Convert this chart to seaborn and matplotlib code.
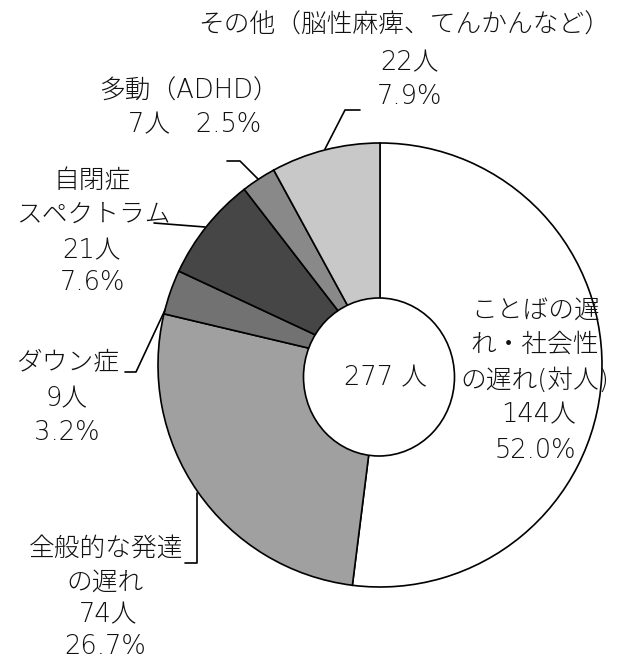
import matplotlib
matplotlib.use("Agg")
import matplotlib.pyplot as plt
from matplotlib.patches import Ellipse
import seaborn as sns

# ---- data ----
categories = ["ことばの遅れ・社会性の遅れ(対人)", "全般的な発達の遅れ", "ダウン症",
              "自閉症スペクトラム", "多動（ADHD）", "その他（脳性麻痺、てんかんなど）"]
counts = [144, 74, 9, 21, 7, 22]
percents = [52.0, 26.7, 3.2, 7.6, 2.5, 7.9]
total_label = "277 人"
colors = ["#ffffff", "#a0a0a0", "#727272", "#464646", "#898989", "#c8c8c8"]

sns.set_theme(style="white")
plt.rcParams['font.family'] = ['DejaVu Sans', 'Noto Sans CJK JP']

W, H = 620, 663
fig = plt.figure(figsize=(W / 100, H / 100), dpi=100)
ax = fig.add_axes([0, 0, 1, 1])

ax.pie(counts, colors=colors, center=(380, 365), radius=222,
       startangle=-90, counterclock=True,
       wedgeprops=dict(edgecolor="black", linewidth=1.2))
ax.set_xlim(0, W)
ax.set_ylim(H, 0)
ax.set_aspect("auto")
ax.axis("off")

# hole
ax.add_patch(Ellipse((379, 377), 151, 158, facecolor="white",
                     edgecolor="black", linewidth=1.2, zorder=5))

fs = 18.5
def t(x, y, s, **kw):
    ax.text(x, y, s, ha="center", va="center", fontsize=fs, color="#111111",
            fontweight="light", zorder=10, **kw)

t(385, 378, total_label)

# ことばの遅れ
t(536, 310, "ことばの遅")
t(535, 344, "れ・社会性")
t(535, 380, "の遅れ(対人)")
t(539, 415, f"{counts[0]}人")
t(535, 450, f"{percents[0]:.1f}%")

# 全般的な発達の遅れ
t(106, 548, "全般的な発達")
t(105, 582, "の遅れ")
t(108, 615, f"{counts[1]}人")
t(105, 646, f"{percents[1]:.1f}%")

# ダウン症
t(68, 363, "ダウン症")
t(67, 399, f"{counts[2]}人")
t(67, 433, f"{percents[2]:.1f}%")

# 自閉症スペクトラム
t(92, 180, "自閉症")
t(93, 214, "スペクトラム")
t(92, 251, f"{counts[3]}人")
t(93, 283, f"{percents[3]:.1f}%")

# 多動
t(189, 91, "多動（ADHD）")
t(195, 125, f"{counts[4]}人　{percents[4]:.1f}%")

# その他
t(404, 25, "その他（脳性麻痺、てんかんなど）")
t(410, 63, f"{counts[5]}人")
t(410, 97, f"{percents[5]:.1f}%")

# leader lines
lk = dict(color="black", linewidth=1.2, zorder=6)
ax.plot([325, 345, 360], [149, 110, 110], **lk)
ax.plot([258, 240, 227], [179, 161, 161], **lk)
ax.plot([205, 154], [227, 223], **lk)
ax.plot([165, 136, 125], [310, 372, 372], **lk)
ax.plot([197, 197, 185], [493, 563, 563], **lk)

fig.savefig("out.png", dpi=100, facecolor="white")
